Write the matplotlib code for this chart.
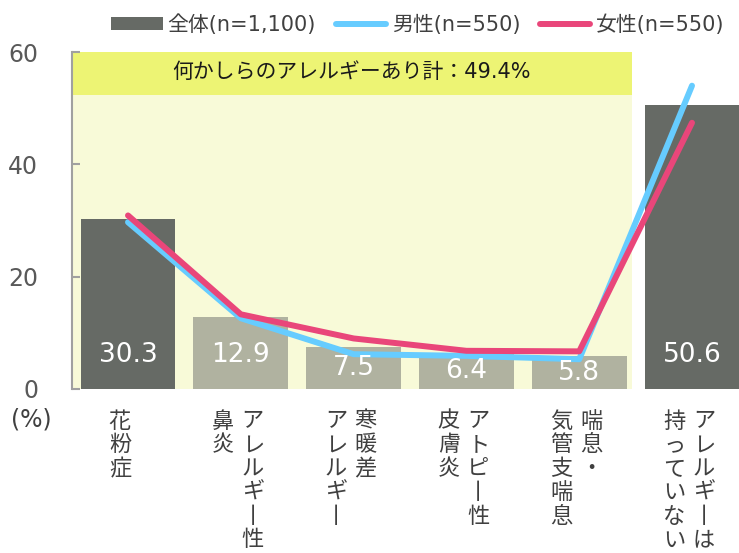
import matplotlib
matplotlib.use("Agg")
import matplotlib.pyplot as plt
from matplotlib.patches import Rectangle
from matplotlib.lines import Line2D

plt.rcParams['font.family'] = ['DejaVu Sans', 'Noto Sans CJK JP']

# ---- data ----
category_columns = [["花粉症"], ["アレルギー性", "鼻炎"], ["寒暖差", "アレルギー"],
                    ["アトピー性", "皮膚炎"], ["喘息・", "気管支喘息"], ["アレルギーは", "持っていない"]]
total = [30.3, 12.9, 7.5, 6.4, 5.8, 50.6]
male = [29.7, 12.6, 6.2, 5.9, 5.3, 54.0]
female = [30.9, 13.3, 9.0, 6.8, 6.7, 47.4]
legend_labels = ["全体(n=1,100)", "男性(n=550)", "女性(n=550)"]
box_title = "何かしらのアレルギーあり計：49.4%"
box_value = 52.3
yticks = [0, 20, 40, 60]

W, H = 739, 553
fig = plt.figure(figsize=(W / 100, H / 100), dpi=100)
ax = fig.add_axes([71.6 / W, 1 - 389 / H, 676.8 / W, (389 - 52) / H])
ax.set_xlim(-0.5, 5.5)
ax.set_ylim(0, 60)

DARK = "#666A65"
LIGHT = "#B0B2A0"
BLUE = "#66CCFF"
RED = "#E9467A"
TXT = "#404040"

# background box
ax.add_patch(Rectangle((-0.5, 0), 4.97, box_value, facecolor="#F8FAD8", edgecolor="none", zorder=0))
ax.add_patch(Rectangle((-0.5, box_value), 4.97, 60 - box_value, facecolor="#EDF474", edgecolor="none", zorder=0.5))
ax.text(1.985, (box_value + 60) / 2 + 0.3, box_title, ha="center", va="center", fontsize=15,
        color="#1a1a1a", zorder=1)

x = list(range(len(total)))
colors = [DARK, LIGHT, LIGHT, LIGHT, LIGHT, DARK]
ax.bar(x, total, width=0.84, color=colors, zorder=2)
for xi, v in zip(x, total):
    ax.text(xi, min(v / 2, 6.0), f"{v:.1f}", ha="center", va="center", color="white",
            fontsize=19, zorder=5)

ax.plot(x, male, color=BLUE, lw=4.3, solid_capstyle="round", solid_joinstyle="round", zorder=3)
ax.plot(x, female, color=RED, lw=4.3, solid_capstyle="round", solid_joinstyle="round", zorder=4)

for s in ["top", "right", "bottom"]:
    ax.spines[s].set_visible(False)
ax.spines["left"].set_color("#A0A0A0")
ax.spines["left"].set_linewidth(1.5)
ax.set_yticks(yticks)
ax.set_yticklabels([str(t) for t in yticks])
ax.tick_params(axis="y", direction="in", length=6, width=1.5, color="#A0A0A0",
               labelsize=17, labelcolor="#595959", pad=24)
ax.set_xticks([])

# (%) label
fig.text(31 / W, 1 - 419 / H, "(%)", ha="center", va="center", fontsize=17, color=TXT)

# vertical category labels
fig.canvas.draw()
step = 23.8
for i, cols in enumerate(category_columns):
    cx = ax.transData.transform((i, 0))[0]
    if len(cols) == 1:
        offs = [-8]
    else:
        offs = [12, -17.5]
    for col, dx in zip(cols, offs):
        for k, ch in enumerate(col):
            if ch == "ー":
                ch = "丨"
            fig.text((cx + dx) / W, 1 - (421 + step * k) / H, ch, ha="center", va="center",
                     fontsize=16, color=TXT, family=["Noto Sans CJK JP", "DejaVu Sans"])

# legend
fig.add_artist(Rectangle((111 / W, 1 - 30 / H), 52 / W, 13 / H, facecolor=DARK, edgecolor="none",
                         transform=fig.transFigure))
fig.text(167 / W, 1 - 25 / H, legend_labels[0], ha="left", va="center", fontsize=15, color=TXT)
fig.add_artist(Line2D([336 / W, 386 / W], [1 - 24 / H, 1 - 24 / H], color=BLUE, lw=4.3,
                      solid_capstyle="round", transform=fig.transFigure))
fig.text(392 / W, 1 - 25 / H, legend_labels[1], ha="left", va="center", fontsize=15, color=TXT)
fig.add_artist(Line2D([540 / W, 590 / W], [1 - 24 / H, 1 - 24 / H], color=RED, lw=4.3,
                      solid_capstyle="round", transform=fig.transFigure))
fig.text(596 / W, 1 - 25 / H, legend_labels[2], ha="left", va="center", fontsize=15, color=TXT)

fig.savefig("out.png", dpi=100)
